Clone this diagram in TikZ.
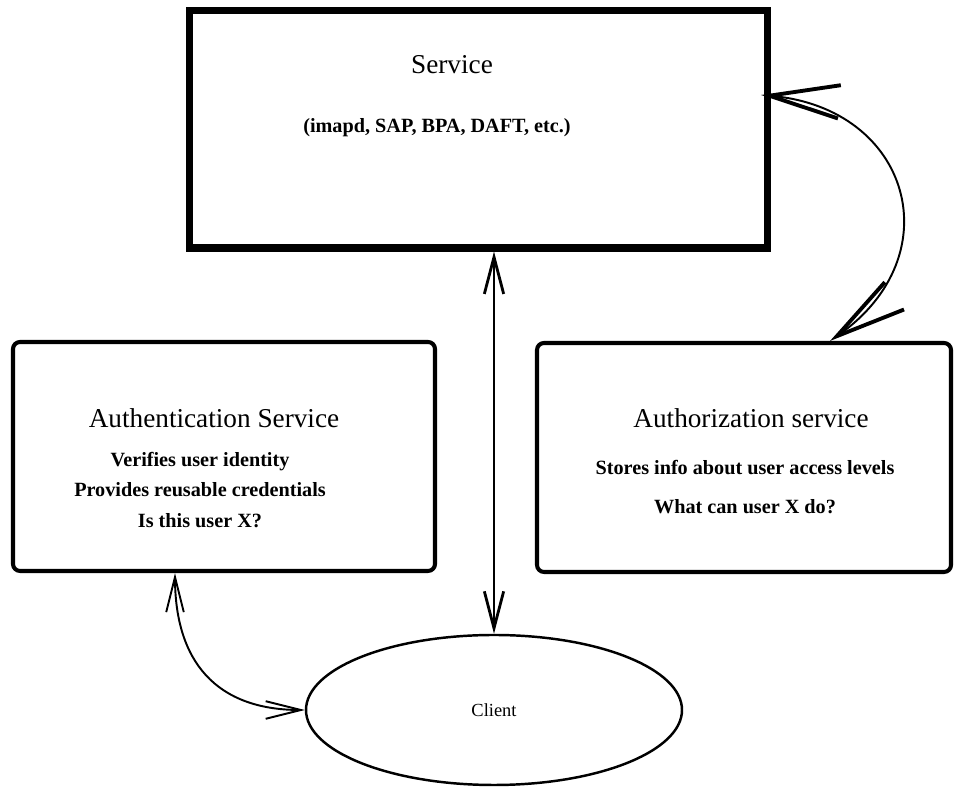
\documentclass[tikz,border=0pt]{standalone}
\usepackage{fontspec}
\setmainfont{Liberation Serif}
\usetikzlibrary{shapes,arrows.meta,positioning,calc}
\tikzstyle{bigblock} = [draw, rectangle, line width=4pt, minimum width=11.56cm, minimum height=4.75cm]
\tikzstyle{block} = [draw, rectangle, line width=2.3pt, rounded corners=4pt, minimum height=4.58cm]
\tikzstyle{cloud} = [draw, ellipse, line width=1.4pt, minimum width=7.52cm, minimum height=3cm, font=\fontsize{10.5}{12}\selectfont]
\tikzstyle{heading} = [font=\fontsize{15.5}{18}\selectfont]
\tikzstyle{info} = [align=center, font=\fontsize{11.5}{17.6}\selectfont\bfseries]
\tikzstyle{line} = [draw, line width=1.6pt, {Straight Barb[length=21pt,width=11pt]}-{Straight Barb[length=21pt,width=11pt]}]
\tikzstyle{arcline} = [draw, line width=1.1pt, {Straight Barb[length=20pt,width=10pt]}-{Straight Barb[length=20pt,width=10pt]}]
\tikzstyle{bigarc} = [draw, line width=1.1pt, {Straight Barb[length=40pt,width=19pt,line width=2.2pt]}-{Straight Barb[length=40pt,width=19pt,line width=2.2pt]}]

\begin{document}
\begin{tikzpicture}
    \useasboundingbox (0,0) rectangle (19.08,15.74);
    % Nodes
    \node [bigblock] (service) at (9.57,13.155) {};
    \node [block, minimum width=8.44cm] (authn) at (4.48,6.61) {};
    \node [block, minimum width=8.28cm] (authz) at (14.88,6.59) {};
    \node [cloud] (client) at (9.88,1.54) {Client};

    % Texts
    \node [heading] (servicetitle) at (9.04,14.44) {Service};
    \node [info] (serviceinfo) at (8.74,13.18) {(imapd, SAP, BPA, DAFT, etc.)};
    \node [heading] (authntitle) at (4.28,7.38) {Authentication Service};
    \node [info] (authninfo) at (4.0,5.94) {Verifies user identity\\ Provides reusable credentials\\ Is this user X?};
    \node [heading] (authztitle) at (15.02,7.38) {Authorization service};
    \node [info] (authzinfo) at (14.9,6.0) {Stores info about user access levels\\[5pt] What can user X do?};

    % Paths
    \path [line] (client.north |- service.south) -- (client.north);
    \path [bigarc] ([xshift=-0.2cm,yshift=0.685cm]service.east) to[out=-5,in=35,looseness=1.5] ([xshift=1.72cm]authz.north);
    \path [arcline] ([xshift=-0.98cm]authn.south) to[out=-90,in=180,looseness=1.2] (client.west);
\end{tikzpicture}
\end{document}
